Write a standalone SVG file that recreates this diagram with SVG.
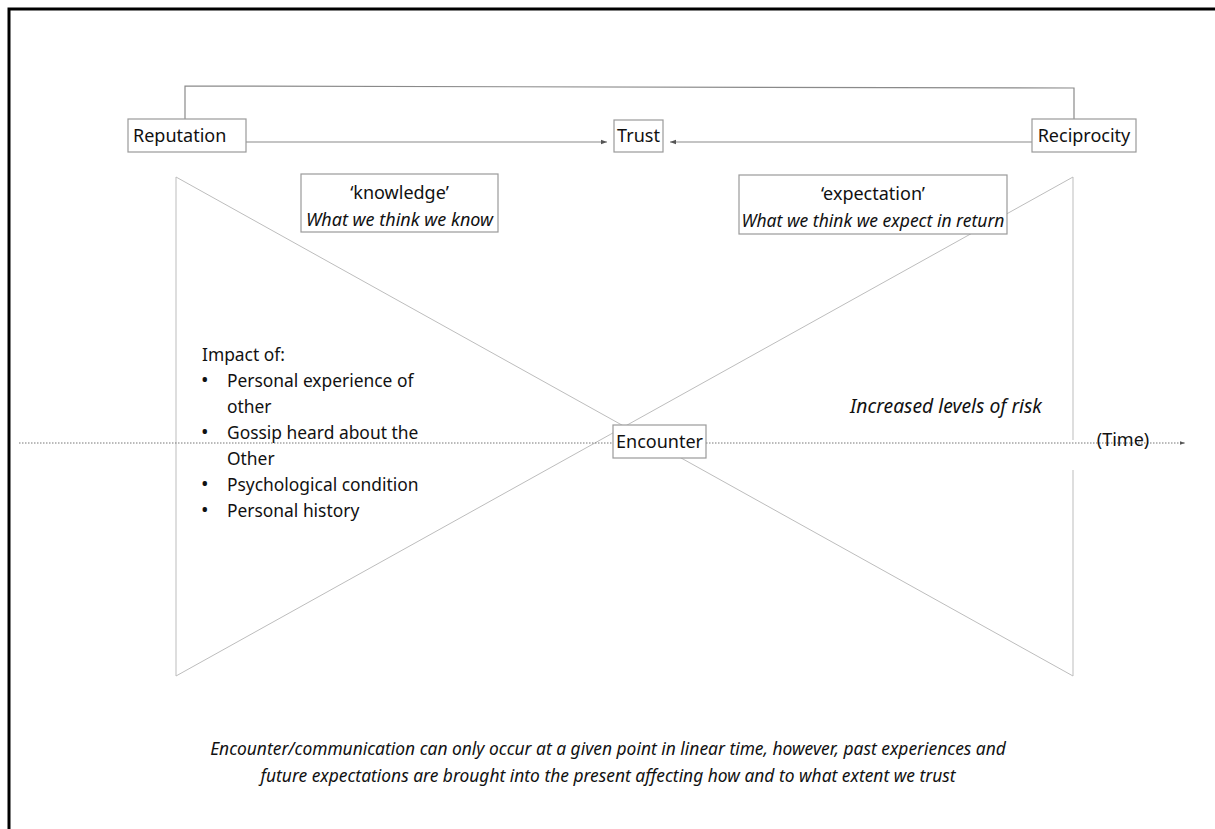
<svg xmlns="http://www.w3.org/2000/svg" width="1215" height="829" viewBox="0 0 1215 829">
<defs>
<style>
.box{fill:#fff;stroke:#9a9a9a;stroke-width:1.2}
.t{font-family:"Noto Sans","Open Sans",sans-serif;fill:#111}
.n{font-size:18px}
.i{font-style:italic}
.conn{fill:none;stroke:#8a8a8a;stroke-width:1.2}
.bow{fill:none;stroke:#bdbdbd;stroke-width:1}
.time{fill:none;stroke:#777;stroke-width:1;stroke-dasharray:1.5 1.5}
</style>
<marker id="ah" viewBox="0 0 6 6" refX="6" refY="3" markerWidth="5" markerHeight="5" orient="auto">
<path d="M0,0.8 L6,3 L0,5.2 z" fill="#555"/>
</marker>
</defs>
<rect x="0" y="0" width="1215" height="829" fill="#fff"/>
<path d="M9,835 L9,9 L1225,9" fill="none" stroke="#000" stroke-width="3"/>

<g id="bowtie">
<line class="bow" x1="176" y1="177" x2="176" y2="676"/>
<line class="bow" x1="176" y1="177" x2="1073" y2="676"/>
<line class="bow" x1="176" y1="676" x2="1073" y2="177"/>
<line class="bow" x1="1073" y1="177" x2="1073" y2="440"/>
<line class="bow" x1="1073" y1="470" x2="1073" y2="676"/>
</g>

<g id="connectors">
<path class="conn" d="M185,119 L185,86 L1074,88 L1074,119"/>
<line class="conn" x1="246" y1="142" x2="607" y2="142" marker-end="url(#ah)"/>
<line class="conn" x1="1032" y1="142" x2="670" y2="142" marker-end="url(#ah)"/>
<line class="time" x1="19" y1="443" x2="1185" y2="443" marker-end="url(#ah)"/>
</g>

<g id="reputation">
<rect class="box" x="128" y="119" width="118" height="33"/>
<text class="t n" x="133" y="142">Reputation</text>
</g>
<g id="trust">
<rect class="box" x="614" y="120" width="49" height="32"/>
<text class="t n" x="638.5" y="142" text-anchor="middle">Trust</text>
</g>
<g id="reciprocity">
<rect class="box" x="1032" y="119" width="104" height="33"/>
<text class="t n" x="1084" y="142" text-anchor="middle">Reciprocity</text>
</g>

<g id="knowledge">
<rect class="box" x="301" y="174" width="197" height="58"/>
<text class="t n" x="399.5" y="199" text-anchor="middle">‘knowledge’</text>
<text class="t i" x="399.5" y="226" text-anchor="middle" font-size="18">What we think we know</text>
</g>
<g id="expectation">
<rect class="box" x="739" y="175" width="268" height="59"/>
<text class="t n" x="873" y="200" text-anchor="middle">‘expectation’</text>
<text class="t i" x="873" y="227" text-anchor="middle" font-size="17.5">What we think we expect in return</text>
</g>

<g id="impact" class="t" font-size="17.4">
<text x="202" y="361">Impact of:</text>
<text x="201" y="387" font-size="20">•</text><text x="227" y="387">Personal experience of</text>
<text x="227" y="413">other</text>
<text x="201" y="439" font-size="20">•</text><text x="227" y="439">Gossip heard about the</text>
<text x="227" y="465">Other</text>
<text x="201" y="491" font-size="20">•</text><text x="227" y="491">Psychological condition</text>
<text x="201" y="517" font-size="20">•</text><text x="227" y="517">Personal history</text>
</g>

<g id="encounter">
<rect class="box" x="613" y="425" width="93" height="33"/>
<text class="t n" x="659.5" y="447.5" text-anchor="middle">Encounter</text>
</g>

<text id="risk" class="t i" font-size="19.3" x="946" y="413" text-anchor="middle">Increased levels of risk</text>
<text id="time" class="t n" x="1123" y="446" text-anchor="middle">(Time)</text>

<g id="caption" class="t i" font-size="17.4" text-anchor="middle">
<text x="608" y="755">Encounter/communication can only occur at a given point in linear time, however, past experiences and</text>
<text x="608" y="782">future expectations are brought into the present affecting how and to what extent we trust</text>
</g>
</svg>
